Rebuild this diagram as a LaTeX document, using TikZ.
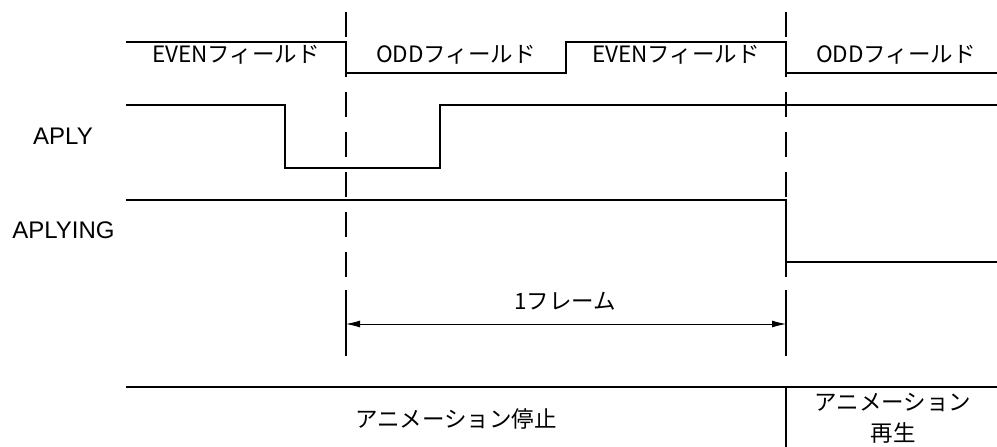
\documentclass[tikz,border=0pt]{standalone}
\usepackage{fontspec}
\setmainfont{Liberation Sans}
\newfontfamily\jpfont{Noto Sans CJK JP}
\usetikzlibrary{arrows.meta}
\begin{document}
\begin{tikzpicture}[x=1pt,y=-1pt,
  sig/.style={line width=1.4pt},
  guide/.style={line width=1.3pt, dash pattern=on 25pt off 15pt},
  ext/.style={line width=1.3pt},
  dim/.style={line width=0.9pt, {Latex[length=14pt,width=7pt]}-{Latex[length=14pt,width=7pt]}},
  lbl/.style={font=\fontsize{24}{24}\selectfont, inner sep=0pt},
  jlbl/.style={font=\jpfont\fontsize{22.5}{31}\selectfont, inner sep=0pt, align=center}]
\useasboundingbox (0,0) rectangle (997,447);

% field signal
\draw[sig] (126,42) -- (346,42) -- (346,73) -- (566,73) -- (566,42) -- (786,42) -- (786,73) -- (997,73);
\node[jlbl] (even1) at (236,55) {EVENフィールド};
\node[jlbl] (odd1) at (456,55) {ODDフィールド};
\node[jlbl] (even2) at (676,55) {EVENフィールド};
\node[jlbl] (odd2) at (896,55) {ODDフィールド};

% APLY
\node[lbl] (aply) at (63,136) {APLY};
\draw[sig] (126,105) -- (285,105) -- (285,168) -- (440,168) -- (440,105) -- (997,105);

% APLYING
\node[lbl] (aplying) at (63.5,230) {APLYING};
\draw[sig] (126,200) -- (786,200) -- (786,262) -- (997,262);

% guide lines
\coordinate (g1top) at (346,12);
\coordinate (g1mid) at (346,290);
\coordinate (g1bot) at (346,356);
\coordinate (g2top) at (786,12);
\coordinate (g2mid) at (786,290);
\coordinate (g2bot) at (786,356);
\draw[guide] (g1top) -- (g1mid);
\draw[ext] (g1mid) -- (g1bot);
\draw[guide] (g2top) -- (g2mid);
\draw[ext] (g2mid) -- (g2bot);

% 1 frame dimension
\coordinate (fa) at (346,324);
\coordinate (fb) at (786,324);
\draw[dim] (fa) -- (fb);
\node[jlbl] (frame) at (565,301) {1フレーム};

% bottom state row
\coordinate (bl) at (126,387);
\coordinate (br) at (997,387);
\coordinate (bmt) at (786,387);
\coordinate (bmb) at (786,447);
\draw[sig] (bl) -- (br);
\draw[sig] (bmt) -- (bmb);
\node[jlbl] (stop) at (456,419) {アニメーション停止};
\node[jlbl] (play) at (893,418) {アニメーション\\再生};
\end{tikzpicture}
\end{document}
